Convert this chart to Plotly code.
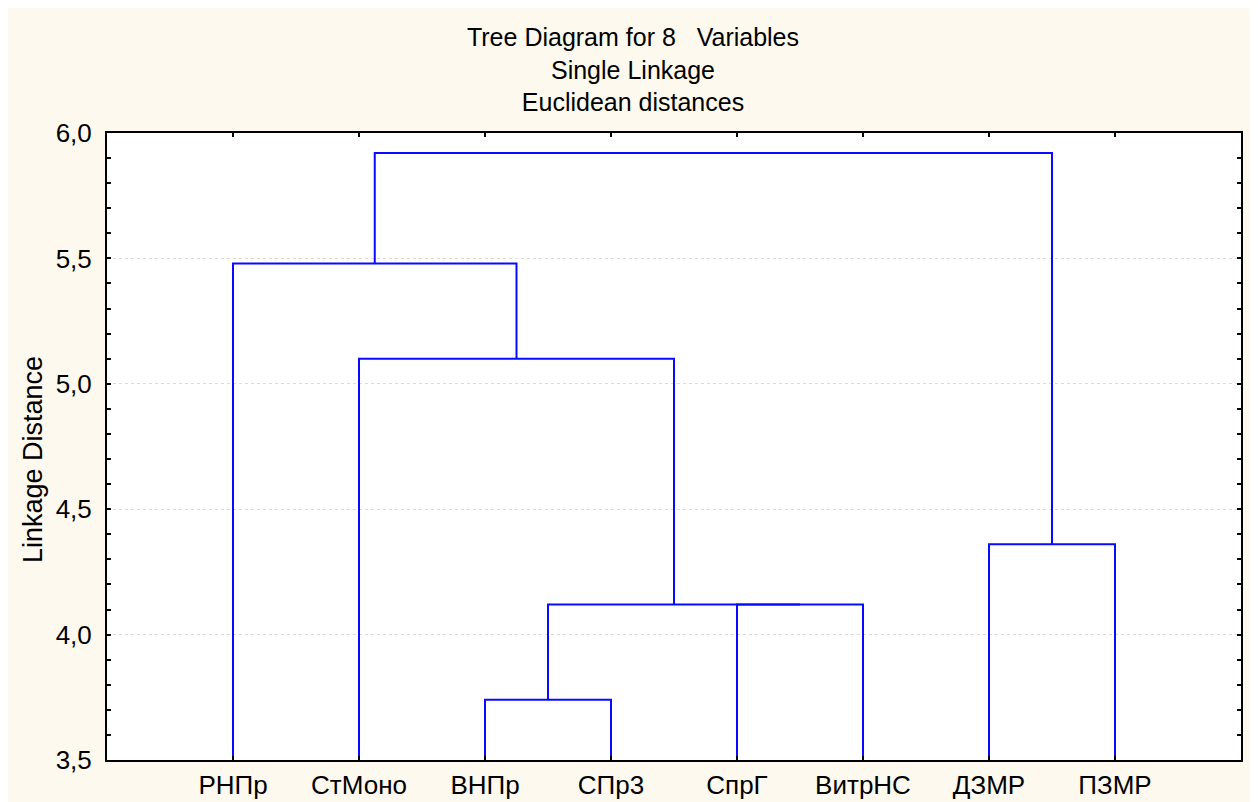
import plotly.graph_objects as go

# ---- data ----
categories = ["РНПр", "СтМоно", "ВНПр", "СПр3", "СпрГ", "ВитрНС", "ДЗМР", "ПЗМР"]
# merges: (left member, right member, linkage distance); members are leaf indices
# or "c<k>" referring to the k-th merge in this list
merge_left = [2, 4, "c0", 1, 0, 6, "c4"]
merge_right = [3, 5, "c1", "c2", "c3", 7, "c5"]
merge_height = [3.74, 4.12, 4.12, 5.10, 5.48, 4.36, 5.92]
y_ticks = [3.5, 4.0, 4.5, 5.0, 5.5, 6.0]
y_tick_text = ["3,5", "4,0", "4,5", "5,0", "5,5", "6,0"]
base_level = 3.5

FONT = "Arial, 'Liberation Sans', sans-serif"
BLUE = "#0a0aff"
CREAM = "#fef9ee"

fig = go.Figure()

pos = {}   # cluster id -> (x, height)
for i in range(len(categories)):
    pos[i] = (i, base_level)

for k, (a, b, h) in enumerate(zip(merge_left, merge_right, merge_height)):
    xa, ha = pos[a]
    xb, hb = pos[b]
    fig.add_trace(go.Scatter(
        x=[xa, xa, xb, xb], y=[ha, h, h, hb], mode="lines",
        line=dict(color=BLUE, width=2), hoverinfo="skip", showlegend=False))
    pos["c%d" % k] = ((xa + xb) / 2, h)

# page body adds an 8px white margin; paper is 1250x794 at offset (8, 8)
fig.update_layout(
    width=1250, height=794,
    paper_bgcolor=CREAM, plot_bgcolor="white",
    margin=dict(l=99, r=17, t=125, b=42, autoexpand=False),
    font=dict(family=FONT, size=26, color="black"),
    title=dict(text="Tree Diagram for 8&nbsp;&nbsp;&nbsp;Variables<br>Single Linkage<br>Euclidean distances",
               x=0.5, xref="container", xanchor="center",
               y=1 - 38 / 794, yref="container", yanchor="top",
               font=dict(family=FONT, size=25, color="black")),
    xaxis=dict(range=[-1, 8], tickvals=list(range(len(categories))), ticktext=categories,
               showgrid=False, zeroline=False, showline=True, linecolor="black", linewidth=2,
               mirror="ticks", ticks="inside", ticklen=4, tickwidth=1.5, tickcolor="black",
               ticklabelstandoff=1, automargin=False,
               tickfont=dict(family=FONT, size=26), fixedrange=True),
    yaxis=dict(range=[3.5, 6.0], tickvals=y_ticks, ticktext=y_tick_text,
               showgrid=True, gridcolor="#dcdcdc", griddash="dot", gridwidth=1,
               zeroline=False, showline=True, linecolor="black", linewidth=2,
               mirror="ticks", ticks="inside", ticklen=4, tickwidth=1.5, tickcolor="black",
               ticklabelstandoff=8, automargin=False,
               minor=dict(dtick=0.1, tick0=3.5, ticks="inside", ticklen=4, tickwidth=1.5,
                          tickcolor="black", showgrid=False),
               tickfont=dict(family=FONT, size=26),
               fixedrange=True),
    annotations=[dict(text="Linkage Distance", textangle=-90, showarrow=False,
                      xref="paper", yref="paper",
                      x=(25 - 99) / 1134, y=(752 - 452) / 627,
                      xanchor="center", yanchor="middle",
                      font=dict(family=FONT, size=27, color="black"))],
)

fig.write_html("out.html")
